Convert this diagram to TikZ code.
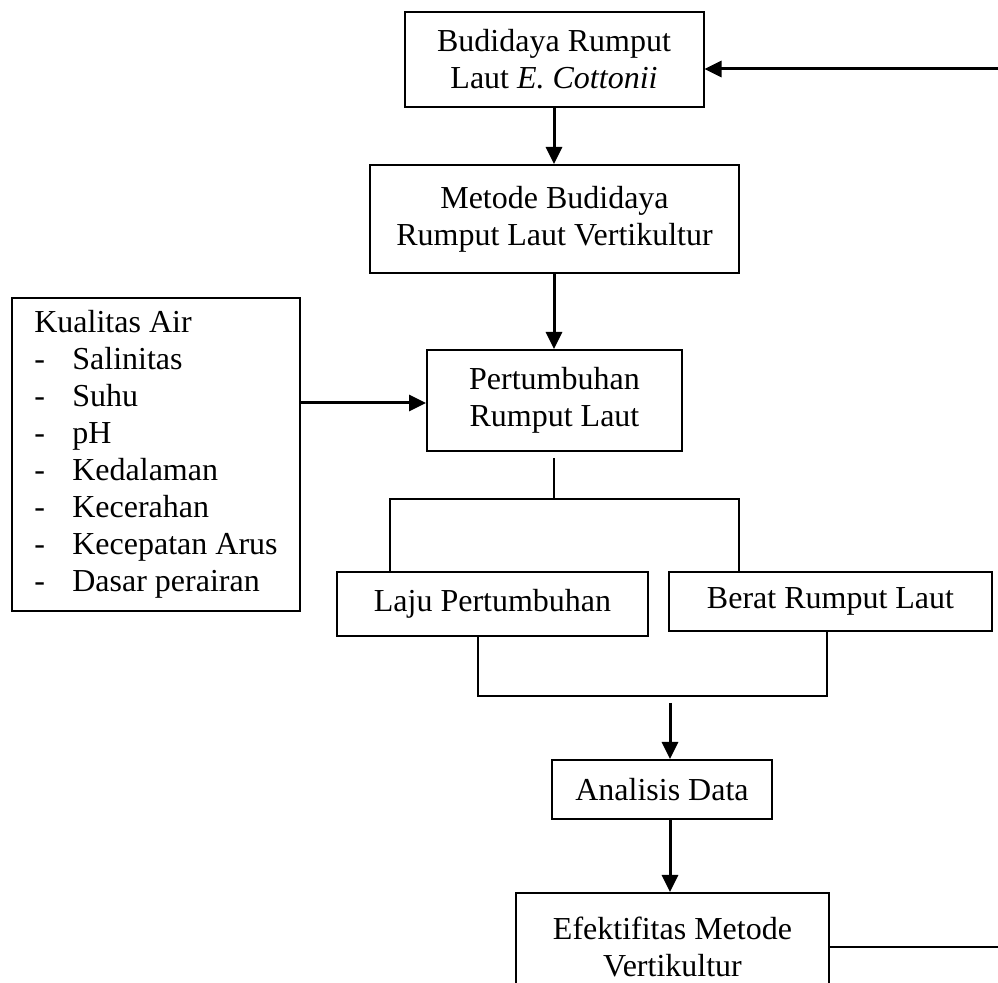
\documentclass[tikz,border=0pt]{standalone}
\usepackage{fontspec}
\setmainfont{Liberation Serif}
\usepackage{tikz}
\usetikzlibrary{arrows.meta, positioning, calc}

\begin{document}
\begin{tikzpicture}[x=0.5pt, y=-0.5pt,
    every node/.style={font=\fontsize{16}{18.5}\selectfont},
    box/.style={draw, line width=1pt, inner sep=0pt, align=center},
    arr/.style={-{Triangle[length=8.5pt, width=8pt]}, line width=1.5pt},
    link/.style={line width=1pt}]
  \clip (0,0) rectangle (998,983);

  % Boxes
  \node[box, minimum width=149.5pt, minimum height=47.5pt] (budidaya)
    at (554,59.5) {Budidaya Rumput\\Laut \textit{E. Cottonii}};
  \node[box, minimum width=184.5pt, minimum height=54pt] (metode)
    at (554.5,219) {Metode Budidaya\\Rumput Laut Vertikultur};
  \node[box, minimum width=127.5pt, minimum height=50.5pt] (tumbuh)
    at (554.5,400.5) {Pertumbuhan\\Rumput Laut};
  \node[box, anchor=north west, align=left, minimum width=144pt,
    minimum height=156.5pt] (kualitas) at (11,297)
    {Kualitas Air\\
     \makebox[19pt][l]{-}Salinitas\\
     \makebox[19pt][l]{-}Suhu\\
     \makebox[19pt][l]{-}pH\\
     \makebox[19pt][l]{-}Kedalaman\\
     \makebox[19pt][l]{-}Kecerahan\\
     \makebox[19pt][l]{-}Kecepatan Arus\\
     \makebox[19pt][l]{-}Dasar perairan};
  \node[box, minimum width=155.5pt, minimum height=32pt] (laju)
    at (492.5,604) {Laju Pertumbuhan};
  \node[box, minimum width=161.5pt, minimum height=29.5pt] (berat)
    at (830.5,601.5) {Berat Rumput Laut};
  \node[box, minimum width=110pt, minimum height=29.5pt] (analisis)
    at (662,789.5) {Analisis Data};
  \node[box, minimum width=156.5pt, minimum height=54pt] (efektif)
    at (672.5,947) {Efektifitas Metode\\Vertikultur};

  % Junction points
  \coordinate (split) at (554,499);
  \coordinate (join) at (670,696);
  \coordinate (back) at (998,947);
  \coordinate (backtop) at (998,69);

  % Connectors
  \draw[arr] (backtop) -- (budidaya.east |- backtop);
  \draw[arr] (budidaya.south) -- (budidaya.south |- metode.north);
  \draw[arr] (budidaya.south |- metode.south) -- (budidaya.south |- tumbuh.north);
  \draw[arr] (kualitas.east |- 0,403) -- (tumbuh.west |- 0,403);

  \draw[link] ([yshift=-3pt]split |- tumbuh.south) -- (split);
  \draw[link] ([xshift=27pt]laju.north west) |- (split)
    -| ([xshift=35.5pt]berat.north west);
  \draw[link] ([xshift=71pt]laju.south west) |- (join)
    -| ([xshift=79.5pt]berat.south west);

  \draw[arr] ([yshift=-3.5pt]join) -- (join |- analisis.north);
  \draw[arr] (join |- analisis.south) -- (join |- efektif.north);
  \draw[link] (efektif.east) -- (back);
\end{tikzpicture}
\end{document}
